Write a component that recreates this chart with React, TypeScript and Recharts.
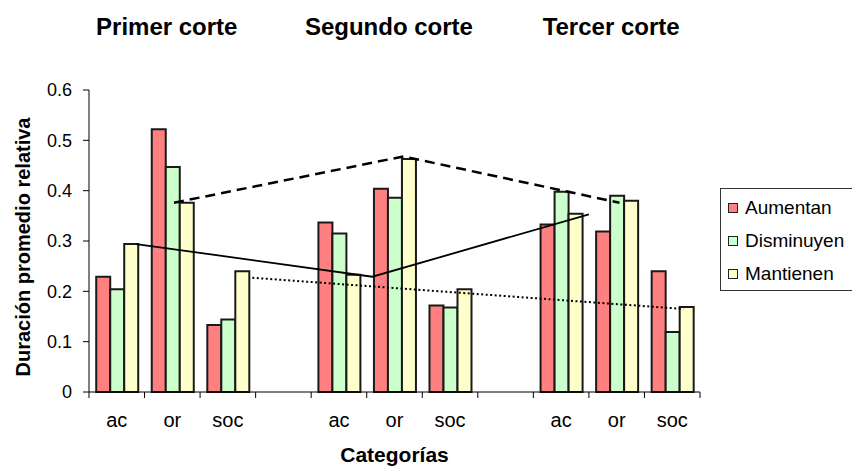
import { Bar, ComposedChart, Label, Legend, Scatter, XAxis, YAxis } from "recharts";

const FONT = '"Liberation Sans", Arial, sans-serif';

// Category slots along the x axis; the blank slots separate the three cuts.
const CATEGORIES = ["ac", "or", "soc", "", "ac", "or", "soc", "", "ac", "or", "soc"];
const AUMENTAN = [0.229, 0.522, 0.133, null, 0.337, 0.404, 0.172, null, 0.333, 0.319, 0.24];
const DISMINUYEN = [0.204, 0.447, 0.144, null, 0.315, 0.386, 0.168, null, 0.398, 0.39, 0.119];
const MANTIENEN = [0.294, 0.376, 0.24, null, 0.233, 0.463, 0.204, null, 0.354, 0.38, 0.169];

const CORTES = ["Primer corte", "Segundo corte", "Tercer corte"];
// Title positions in slot units (0 = left end of the category axis)
const CORTE_POS = [1.4, 5.4, 9.4];

const Y_TICKS = [0, 0.1, 0.2, 0.3, 0.4, 0.5, 0.6];

// Trend lines drawn over the bars, x in slot units
const SOLID_X = [0.85, 5.1, 9.0];
const SOLID_Y = [0.294, 0.229, 0.353];
const DASHED_X = [1.53, 5.66, 9.55];
const DASHED_Y = [0.376, 0.468, 0.376];
const DOTTED_X = [2.94, 10.7];
const DOTTED_Y = [0.227, 0.165];

const SERIES = [
  { key: "aumentan", name: "Aumentan", color: "#ff8080" },
  { key: "disminuyen", name: "Disminuyen", color: "#ccffcc" },
  { key: "mantienen", name: "Mantienen", color: "#ffffcc" },
];

const rows = CATEGORIES.map((name, i) => ({
  name,
  aumentan: AUMENTAN[i],
  disminuyen: DISMINUYEN[i],
  mantienen: MANTIENEN[i],
}));

const toPoints = (xs: number[], ys: number[]) => xs.map((x, i) => ({ x, y: ys[i] }));

const TICK_SIZE = 6;
const TICK_MARGIN = 15;

// Excel-style category axis: labels in the middle of each slot,
// tick marks on the slot boundaries.
function CategoryTick(props: any) {
  const { x, y, payload, index, visibleTicksCount, width } = props;
  const half = payload.offset || (width ?? 0) / CATEGORIES.length / 2;
  const axisY = y - TICK_SIZE - TICK_MARGIN;
  return (
    <g>
      <line x1={x - half} x2={x - half} y1={axisY} y2={axisY + TICK_SIZE} stroke="#000" />
      {index === visibleTicksCount - 1 && (
        <line x1={x + half} x2={x + half} y1={axisY} y2={axisY + TICK_SIZE} stroke="#000" />
      )}
      <text x={x} y={y} dy="0.71em" textAnchor="middle" fill="#000" fontSize={20} fontFamily={FONT}>
        {payload.value}
      </text>
    </g>
  );
}

function YTitle({ viewBox }: any) {
  const cx = viewBox.x + 23;
  const cy = viewBox.y + viewBox.height / 2 + 6;
  return (
    <text
      x={cx}
      y={cy}
      transform={`rotate(-90 ${cx} ${cy})`}
      textAnchor="middle"
      dominantBaseline="central"
      fontSize={20}
      fontWeight={700}
      fontFamily={FONT}
      fill="#000"
    >
      Duración promedio relativa
    </text>
  );
}

function LegendBox() {
  return (
    <div
      style={{
        border: "1.5px solid #333",
        background: "#fff",
        padding: "2px 0 0 7px",
        fontFamily: FONT,
        fontSize: 19,
        color: "#000",
      }}
    >
      {SERIES.map((s) => (
        <div key={s.key} style={{ display: "flex", alignItems: "center", height: 33 }}>
          <span
            style={{
              width: 8,
              height: 8,
              background: s.color,
              border: "1.5px solid #222",
              marginRight: 7,
            }}
          />
          {s.name}
        </div>
      ))}
    </div>
  );
}

export default function App() {
  return (
    <div style={{ position: "absolute", left: 0, top: 0, width: 852, height: 466, overflow: "hidden", background: "#fff" }}>
      <ComposedChart
        width={852}
        height={466}
        data={rows}
        margin={{ top: 0, right: 152, bottom: 0, left: 0 }}
        barCategoryGap="13%"
        barGap={0}
      >
        <XAxis
          xAxisId="cat"
          dataKey="name"
          height={74}
          axisLine={{ stroke: "#000" }}
          tickLine={false}
          tickSize={TICK_SIZE}
          tickMargin={TICK_MARGIN}
          interval={0}
          tick={<CategoryTick />}
        >
          <Label value="Categorías" position="insideBottom" offset={4} fontSize={21} fontWeight={700} fill="#000" fontFamily={FONT} />
        </XAxis>
        <XAxis
          xAxisId="pos"
          dataKey="x"
          type="number"
          orientation="top"
          domain={[0, CATEGORIES.length]}
          ticks={CORTE_POS}
          interval={0}
          tickFormatter={(_v: number, i: number) => CORTES[i]}
          height={90}
          axisLine={false}
          tickLine={false}
          tickMargin={49}
          tick={{ fill: "#000", fontSize: 24, fontWeight: 700, fontFamily: FONT }}
        />
        <YAxis
          domain={[0, 0.6]}
          ticks={Y_TICKS}
          width={89}
          axisLine={{ stroke: "#000" }}
          tickLine={{ stroke: "#000" }}
          tickSize={6}
          tickMargin={11}
          tick={{ fill: "#000", fontSize: 18, fontFamily: FONT }}
        >
          <Label content={<YTitle />} />
        </YAxis>
        <Legend
          layout="vertical"
          align="center"
          verticalAlign="middle"
          wrapperStyle={{ left: 720, top: 188, width: 150 }}
          content={<LegendBox />}
        />
        {SERIES.map((s) => (
          <Bar
            key={s.key}
            xAxisId="cat"
            dataKey={s.key}
            name={s.name}
            fill={s.color}
            stroke="#1a1a1a"
            strokeWidth={2}
            isAnimationActive={false}
          />
        ))}
        <Scatter
          xAxisId="pos"
          data={toPoints(SOLID_X, SOLID_Y)}
          dataKey="y"
          fill="#000"
          line={{ stroke: "#000", strokeWidth: 1.8 }}
          shape={() => <g />}
          legendType="none"
          isAnimationActive={false}
        />
        <Scatter
          xAxisId="pos"
          data={toPoints(DASHED_X, DASHED_Y)}
          dataKey="y"
          fill="#000"
          line={{ stroke: "#000", strokeWidth: 2.5, strokeDasharray: "10 6" }}
          shape={() => <g />}
          legendType="none"
          isAnimationActive={false}
        />
        <Scatter
          xAxisId="pos"
          data={toPoints(DOTTED_X, DOTTED_Y)}
          dataKey="y"
          fill="#000"
          line={{ stroke: "#000", strokeWidth: 2, strokeDasharray: "2 2.5" }}
          shape={() => <g />}
          legendType="none"
          isAnimationActive={false}
        />
      </ComposedChart>
    </div>
  );
}
